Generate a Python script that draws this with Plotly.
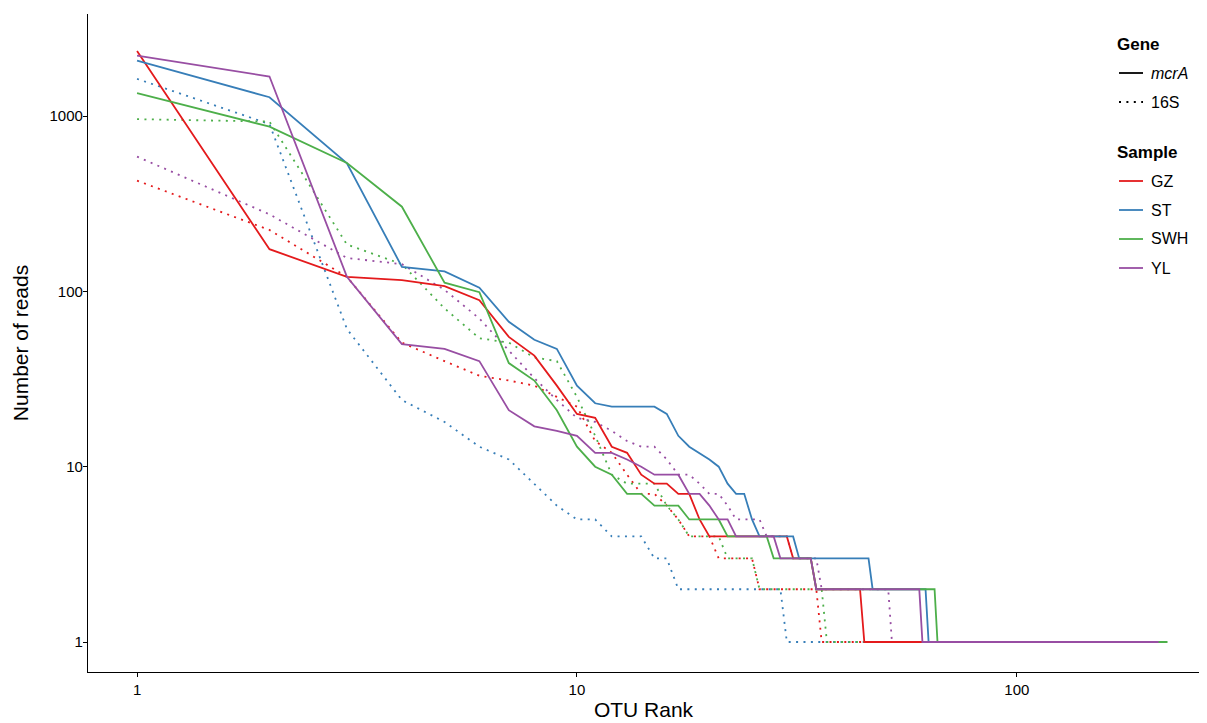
import plotly.graph_objects as go

# ---------------- data ----------------
samples = ["GZ", "ST", "SWH", "YL"]
sample_colors = ["#E41A1C", "#377EB8", "#4DAF4A", "#984EA3"]
genes = ["mcrA", "16S"]

# mcrA (solid lines): OTU rank and number of reads
gz_mcrA_rank = [1, 2, 3, 4, 5, 6, 7, 8, 9, 10, 11, 12, 13, 14, 15, 16, 17, 18, 19, 20, 30, 31, 34, 35, 44, 45, 150]
gz_mcrA_reads = [2350, 174, 121, 116, 107, 89, 55, 43, 29, 20, 19, 13, 12, 9, 8, 8, 7, 7, 5, 4, 4, 3, 3, 2, 2, 1, 1]

st_mcrA_rank = [1, 2, 3, 4, 5, 6, 7, 8, 9, 10, 11, 12, 13, 14, 15, 16, 17, 18, 19, 20, 21, 22, 23, 24, 25, 26, 31, 32, 46, 47, 62, 63, 185]
st_mcrA_reads = [2070, 1280, 538, 138, 130, 105, 67, 53, 47, 29, 23, 22, 22, 22, 22, 20, 15, 13, 12, 11, 10, 8, 7, 7, 5, 4, 4, 3, 3, 2, 2, 1, 1]

swh_mcrA_rank = [1, 2, 3, 4, 5, 6, 7, 8, 9, 10, 11, 12, 13, 14, 15, 16, 17, 18, 19, 20, 21, 22, 27, 28, 34, 35, 65, 66, 220]
swh_mcrA_reads = [1350, 870, 540, 304, 112, 99, 39, 31, 21, 13, 10, 9, 7, 7, 6, 6, 6, 5, 5, 5, 5, 4, 4, 3, 3, 2, 2, 1, 1]

yl_mcrA_rank = [1, 2, 3, 4, 5, 6, 7, 8, 9, 10, 11, 12, 13, 14, 15, 16, 17, 18, 19, 20, 21, 22, 23, 28, 29, 34, 35, 60, 61, 210]
yl_mcrA_reads = [2210, 1680, 121, 50, 47, 40, 21, 17, 16, 15, 12, 12, 11, 10, 9, 9, 9, 7, 7, 6, 5, 5, 4, 4, 3, 3, 2, 2, 1, 1]

# 16S (dotted lines)
gz_16S_rank = [1, 2, 3, 4, 5, 6, 7, 8, 9, 10, 11, 12, 13, 14, 15, 16, 17, 18, 19, 20, 21, 25, 26, 35, 36, 120]
gz_16S_reads = [428, 224, 121, 51, 40, 33, 31, 29, 25, 22, 14, 12, 9, 7, 7, 6, 5, 4, 4, 4, 3, 3, 2, 2, 1, 1]

st_16S_rank = [1, 2, 3, 4, 5, 6, 7, 8, 9, 10, 11, 12, 13, 14, 15, 16, 17, 29, 30, 110]
st_16S_reads = [1630, 900, 61, 24, 18, 13, 11, 8, 6, 5, 5, 4, 4, 4, 3, 3, 2, 2, 1, 1]

swh_16S_rank = [1, 2, 3, 4, 5, 6, 7, 8, 9, 10, 11, 12, 13, 14, 15, 16, 17, 18, 19, 20, 21, 22, 25, 26, 36, 37, 130]
swh_16S_reads = [960, 930, 185, 143, 80, 54, 51, 42, 40, 25, 15, 9, 8, 8, 8, 6, 5, 4, 4, 4, 4, 3, 3, 2, 2, 1, 1]

yl_16S_rank = [1, 2, 3, 4, 5, 6, 7, 8, 9, 10, 11, 12, 13, 14, 15, 16, 17, 18, 19, 20, 21, 22, 23, 24, 25, 26, 27, 30, 31, 35, 36, 51, 52, 140]
yl_16S_reads = [587, 275, 155, 143, 102, 70, 46, 32, 24, 19, 18, 16, 14, 13, 13, 11, 9, 9, 8, 7, 7, 6, 5, 5, 5, 5, 4, 4, 3, 3, 2, 2, 1, 1]

x_ticks = [1, 10, 100]
x_tick_labels = ["1", "10", "100"]
y_ticks = [1, 10, 100, 1000]
y_tick_labels = ["1", "10", "100", "1000"]

series_16S = [(gz_16S_rank, gz_16S_reads), (st_16S_rank, st_16S_reads),
              (swh_16S_rank, swh_16S_reads), (yl_16S_rank, yl_16S_reads)]
series_mcrA = [(gz_mcrA_rank, gz_mcrA_reads), (st_mcrA_rank, st_mcrA_reads),
               (swh_mcrA_rank, swh_mcrA_reads), (yl_mcrA_rank, yl_mcrA_reads)]

# ---------------- figure ----------------
# the page body adds an 8px offset, so the figure is sized/margined to compensate
OFF = 8
W, H = 1207 - OFF, 723 - OFF
ML, MR, MT, MB = 88 - OFF, 8, 14 - OFF, 51
FONT = "Liberation Sans, Arial, sans-serif"
DOT = "2px,5.4px"
LW = 1.8

fig = go.Figure()

for (rk, rd), name, col in zip(series_16S, samples, sample_colors):
    fig.add_trace(go.Scatter(x=rk, y=rd, mode="lines", name=name + " 16S",
                             line=dict(color=col, width=LW, dash=DOT),
                             showlegend=False, hoverinfo="x+y+name"))
for (rk, rd), name, col in zip(series_mcrA, samples, sample_colors):
    fig.add_trace(go.Scatter(x=rk, y=rd, mode="lines", name=name + " mcrA",
                             line=dict(color=col, width=LW),
                             showlegend=False, hoverinfo="x+y+name"))


def px_x(p):
    return (p - OFF - ML) / (W - ML - MR)


def px_y(p):
    return (H - MB - (p - OFF)) / (H - MT - MB)


# ---------------- manual legend (ggplot-like) ----------------
shapes = []
annotations = []


def leg_title(text, y):
    annotations.append(dict(x=px_x(1115), y=px_y(y), xref="paper", yref="paper",
                            text="<b>" + text + "</b>", showarrow=False,
                            xanchor="left", yanchor="middle",
                            font=dict(family=FONT, size=17, color="black")))


def leg_item(text, y, color, dash):
    shapes.append(dict(type="line", xref="paper", yref="paper",
                       x0=px_x(1119), x1=px_x(1143), y0=px_y(y), y1=px_y(y),
                       line=dict(color=color, width=LW, dash=dash)))
    annotations.append(dict(x=px_x(1149), y=px_y(y), xref="paper", yref="paper",
                            text=text, showarrow=False, xanchor="left", yanchor="middle",
                            font=dict(family=FONT, size=16, color="black")))


leg_title("Gene", 45)
leg_item("<i>" + genes[0] + "</i>", 73, "black", "solid")
leg_item(genes[1], 102, "black", DOT)
leg_title("Sample", 152)
for i, (name, col) in enumerate(zip(samples, sample_colors)):
    leg_item(name, [181, 210, 239, 268][i], col, "solid")

axis_common = dict(type="log", showgrid=False, zeroline=False, showline=True,
                   linecolor="black", linewidth=1.3, ticks="outside", ticklen=4,
                   tickwidth=1.2, tickcolor="black", tickmode="array",
                   tickfont=dict(family=FONT, size=15, color="black"))

fig.update_layout(
    width=W, height=H,
    margin=dict(l=ML, r=MR, t=MT, b=MB, pad=0),
    paper_bgcolor="white", plot_bgcolor="white",
    font=dict(family=FONT, color="black"),
    xaxis=dict(axis_common, range=[-0.1115, 2.414], tickvals=x_ticks, ticktext=x_tick_labels,
               title=dict(text="OTU Rank", font=dict(family=FONT, size=21, color="black"), standoff=5)),
    yaxis=dict(axis_common, range=[-0.171, 3.582], tickvals=y_ticks, ticktext=y_tick_labels,
               ticklabelstandoff=-3,
               title=dict(text="Number of reads", font=dict(family=FONT, size=21, color="black"), standoff=15)),
    shapes=shapes,
    annotations=annotations,
    showlegend=False,
)

fig.write_html("out.html")
